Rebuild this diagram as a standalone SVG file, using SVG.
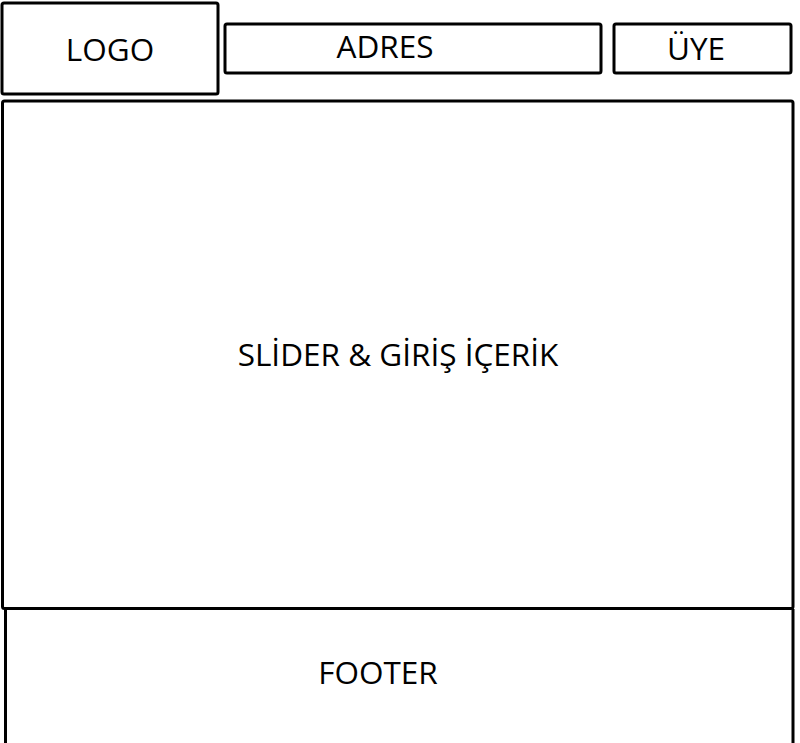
<svg xmlns="http://www.w3.org/2000/svg" width="800" height="743" viewBox="0 0 800 743">
<style>
.box{fill:#fff;stroke:#000;stroke-width:3}
.ln{fill:none;stroke:#000;stroke-width:3}
.t{font-family:"Open Sans","Noto Sans",sans-serif;font-size:31.5px;fill:#000;text-anchor:middle}
</style>
<rect width="800" height="743" fill="#fff"/>
<g id="logo"><rect class="box" x="2" y="3" width="216" height="91" rx="2"/><text class="t" x="110" y="61">LOGO</text></g>
<g id="adres"><rect class="box" x="225" y="24" width="376" height="49" rx="2"/><text class="t" x="385" y="58">ADRES</text></g>
<g id="uye"><rect class="box" x="614" y="24" width="177" height="49" rx="2"/><text class="t" x="696" y="60">ÜYE</text></g>
<g id="slider"><rect class="box" x="2.5" y="101" width="790.5" height="507.5" rx="2"/><text class="t" x="398" y="366">SLİDER &amp; GİRİŞ İÇERİK</text></g>
<g id="footer"><path class="ln" d="M5.5 609 V743 M793 609 V743"/><text class="t" x="378" y="684">FOOTER</text></g>
<g id="connectors"/>
</svg>
